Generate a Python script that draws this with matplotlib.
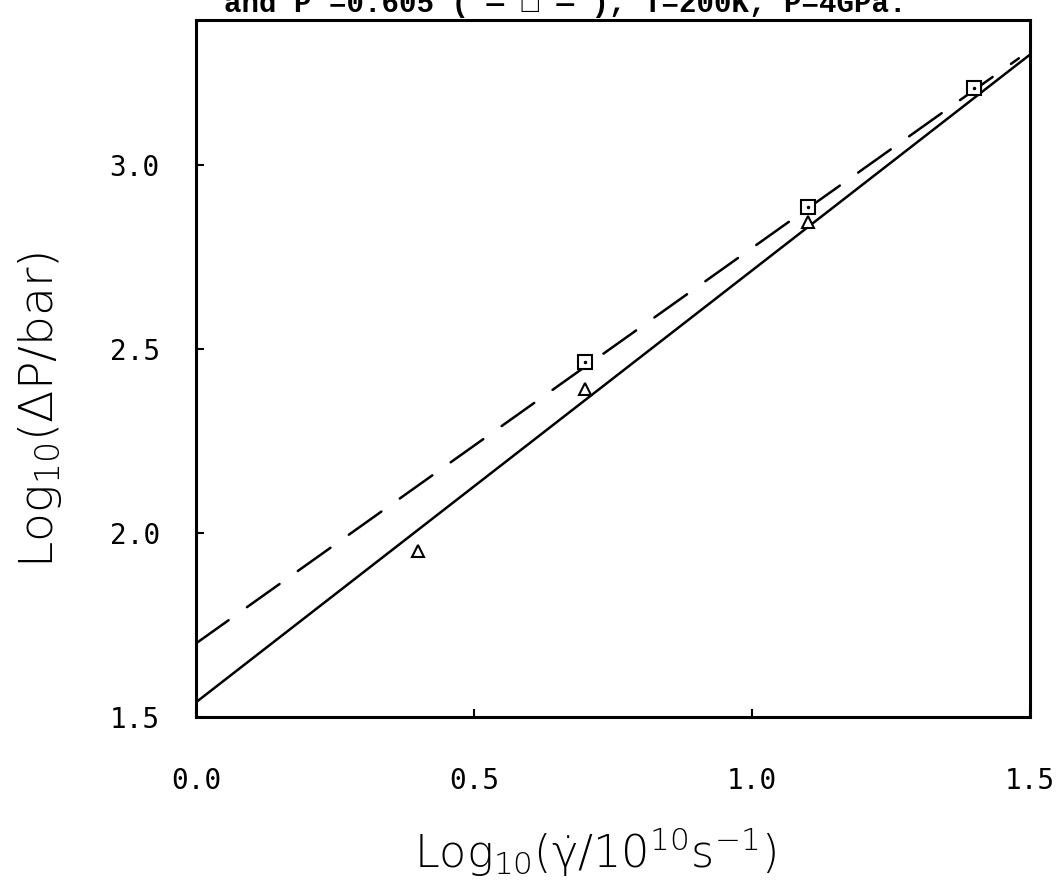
import numpy as np
import matplotlib
matplotlib.use("Agg")
import matplotlib.pyplot as plt

# ===================
# Datos
# ===================

# puntos: triángulos (línea continua) y cuadrados (línea discontinua)
tri_x = [0.4, 0.7, 1.1]
tri_y = [1.95, 2.39, 2.845]

sq_x = [0.7, 1.1, 1.4]
sq_y = [2.465, 2.885, 3.21]

# rectas de ajuste (extremos)
solid_x = [0.0, 1.5]
solid_y = [1.54, 3.30]

dash_x = [0.0, 1.48]
dash_y = [1.70, 3.29]

x_ticks = [0.0, 0.5, 1.0, 1.5]
y_ticks = [1.5, 2.0, 2.5, 3.0]

title_text = "and P =0.605 ( \u2014 \u25a1 \u2014 ), T=200K, P=4GPa."

# ===================
# Figura
# ===================

plt.rcParams["mathtext.fontset"] = "custom"
plt.rcParams["mathtext.rm"] = "DejaVu Sans:light"
plt.rcParams["mathtext.it"] = "DejaVu Sans:italic:light"

fig = plt.figure(figsize=(10.58, 8.94), dpi=100)
ax = fig.add_axes([196 / 1058, 1 - 717 / 894, (1030 - 196) / 1058, (717 - 20) / 894])

ax.plot(solid_x, solid_y, color="black", lw=1.8, solid_capstyle="round")
ax.plot(dash_x, dash_y, color="black", lw=1.8, linestyle=(0, (16, 9)),
        dash_capstyle="round")

ax.plot(tri_x, tri_y, linestyle="none", marker="^", markersize=9,
        markerfacecolor="white", markeredgecolor="black", markeredgewidth=1.5)
ax.plot(sq_x, sq_y, linestyle="none", marker="s", markersize=10,
        markerfacecolor="white", markeredgecolor="black", markeredgewidth=1.5)
ax.plot(sq_x, sq_y, linestyle="none", marker=".", markersize=3, color="black")

ax.set_xlim(0, 1.5)
ax.set_ylim(1.5, 3.394)

ax.set_xticks(x_ticks)
ax.set_xticklabels([f"{v:.1f}" for v in x_ticks], family="DejaVu Sans Mono", fontsize=20)
ax.set_yticks(y_ticks)
ax.set_yticklabels([f"{v:.1f}" for v in y_ticks], family="DejaVu Sans Mono", fontsize=20)
ax.tick_params(axis="x", direction="in", length=6, width=1.5, pad=36, top=False)
ax.tick_params(axis="y", direction="in", length=6, width=1.5, pad=26, right=False)

for s in ax.spines.values():
    s.set_linewidth(2.2)

fig.text(40 / 1058, 1 - 410 / 894, r"$\mathrm{Log_{10}(\Delta P/bar)}$", rotation=90,
         ha="center", va="center", fontsize=34)
fig.text(595 / 1058, 1 - 852 / 894, r"$\mathrm{Log_{10}(\dot{\gamma}/10^{10}s^{-1})}$",
         ha="center", va="center", fontsize=32)

# título cortado en la parte superior (como en el original escaneado)
fig.text(565 / 1058, 1 - 12 / 894, title_text, ha="center", va="baseline",
         family="Liberation Mono", fontweight="bold", fontsize=21)

fig.savefig("out.png", dpi=100)
